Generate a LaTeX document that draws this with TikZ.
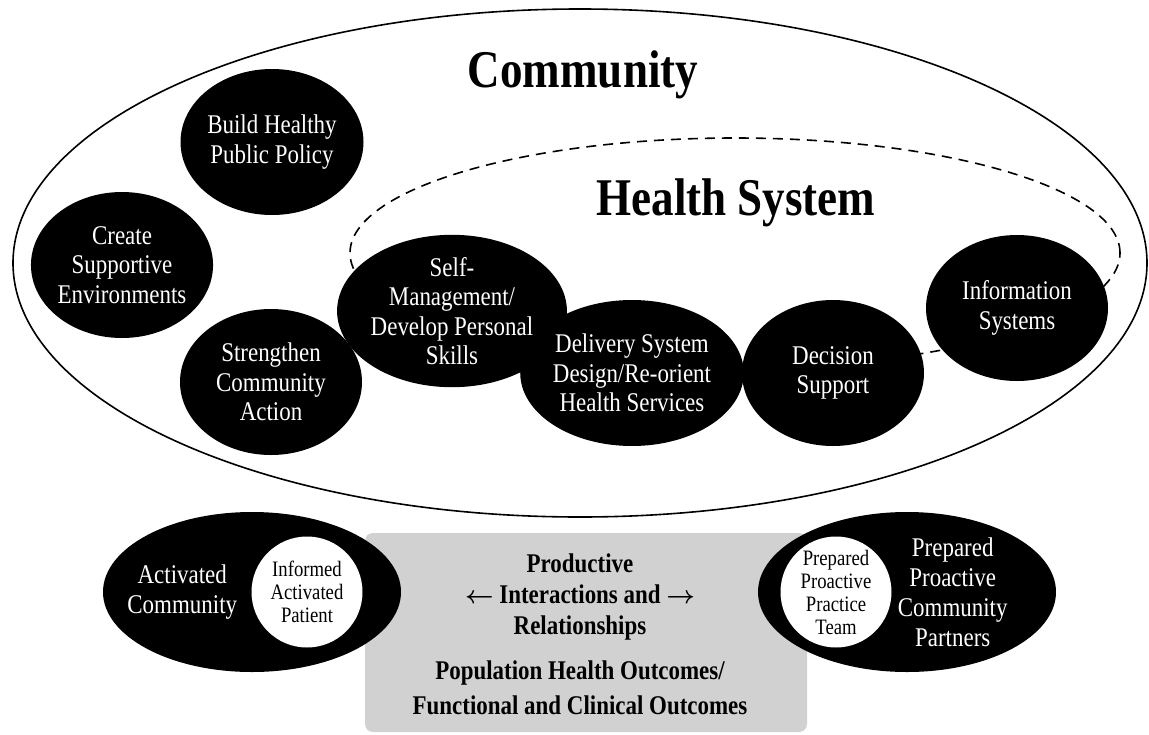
\documentclass[tikz,border=0pt]{standalone}
\usepackage{fontspec}
\setmainfont{Liberation Serif}[FakeStretch=0.85]
\usepackage{tikz}
\usetikzlibrary{positioning}
\usetikzlibrary{shapes}
\tikzstyle{blob}=[ellipse,fill=black,text=white,inner sep=0pt,minimum width=182pt,minimum height=146pt,align=center,font=\fontsize{27}{29.5}\selectfont]
\tikzstyle{pair}=[ellipse,fill=black,inner sep=0pt,minimum width=298pt,minimum height=160pt]
\tikzstyle{core}=[circle,fill=white,inner sep=0pt,minimum size=111pt,align=center,font=\fontsize{22}{23}\selectfont]
\tikzstyle{side}=[text=white,inner sep=0pt,align=center,font=\fontsize{27}{30}\selectfont]
\tikzstyle{head}=[inner sep=0pt,anchor=base,font=\fontsize{53}{60}\selectfont\bfseries]

\begin{document}
\begin{tikzpicture}[x=1pt,y=-1pt]
				
				\useasboundingbox (0,0) rectangle (1149,734);
				
				\def\w{1.6pt}
				
				\node [ellipse,draw,line width=\w,inner sep=0pt,minimum width=1134pt,minimum height=508pt] (comm) at (580,263) {};
				\node [ellipse,draw,line width=\w,dash pattern=on 10pt off 7pt,inner sep=0pt,minimum width=770pt,minimum height=230pt] (hsys) at (735,253) {};
				
				\node [head] (commtitle) at (583,87) {Community};
				\node [head] (hsystitle) at (736,215) {Health System};
				
				
				\node [blob] (policy) at (272,142) {Build Healthy\\Public Policy};
				\node [blob] (environ) at (122,265) {Create\\Supportive\\Environments};
				\node [blob] (action) at (271,382) {Strengthen\\Community\\Action};
				
				\node [blob] (selfman) at (452,311) {Self-\\Management/\\Develop Personal\\Skills};
				\node [blob] (delivery) at (632,373) {Delivery System\\Design/Re-orient\\Health Services};
				\node [blob] (decision) at (833,373) {Decision\\Support};
				\node [blob] (infosys) at (1017,308) {Information\\Systems};
				
				
				\node [fill=black!18,rounded corners=8pt,inner sep=0pt,minimum width=442pt,minimum height=199pt] (outcomes) at (586,632.5) {};
				\node [inner sep=0pt,align=center,font=\fontsize{27}{31}\selectfont\bfseries\boldmath] (interact) at (580,597) {Productive\\$\leftarrow$ Interactions and $\rightarrow$\\Relationships};
				\node [inner sep=0pt,align=center,font=\fontsize{27}{35}\selectfont\bfseries] (popout) at (580,688) {Population Health Outcomes/\\Functional and Clinical Outcomes};
				
				
				\node [pair] (actcomm) at (252,592) {};
				\node [core] (patient) at (307,592) {Informed\\Activated\\Patient};
				\node [side, left = 14pt of patient] {Activated\\Community};
				
				\node [pair] (prepcomm) at (907,592) {};
				\node [core] (team) at (836,592) {Prepared\\Proactive\\Practice\\Team};
				\node [side, right = 6pt of team] {Prepared\\Proactive\\Community\\Partners};
				
\end{tikzpicture}
\end{document}
